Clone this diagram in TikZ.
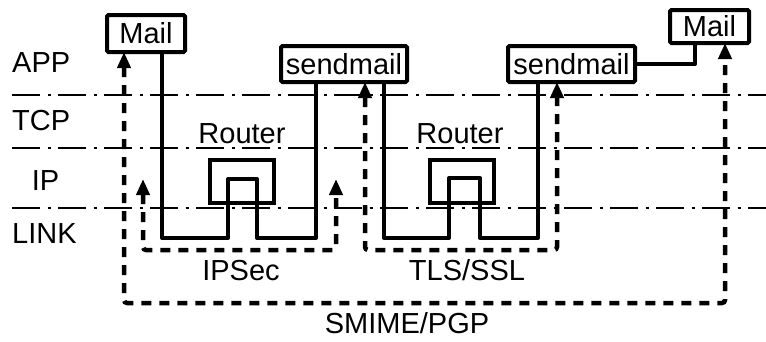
\documentclass[tikz,border=0pt]{standalone}
\usepackage{fontspec}
\setmainfont{Liberation Sans}
\usetikzlibrary{arrows.meta}
\tikzset{
  layerline/.style={line width=1.4pt, dash pattern=on 28pt off 7.5pt on 3pt off 7.5pt},
  appbox/.style={draw, line width=4pt, rounded corners=1.5pt, inner sep=0pt, fill=white},
  routerbox/.style={draw, line width=4pt, inner sep=0pt, minimum width=64pt, minimum height=43pt},
  wire/.style={line width=4pt, line join=round},
  secpath/.style={line width=4.5pt, dash pattern=on 10pt off 8pt, rounded corners=3pt,
    {Triangle[width=13pt,length=16pt]}-{Triangle[width=13pt,length=16pt]}},
  lbl/.style={inner sep=0pt, anchor=base},
}
\begin{document}
\begin{tikzpicture}[x=1pt, y=-1pt, font=\fontsize{29}{33}\selectfont]
\useasboundingbox (0,0) rectangle (766,341);

% protocol layer separators
\draw[layerline] (12,95) -- (766,95);
\draw[layerline] (12,148) -- (766,148);
\draw[layerline] (12,208) -- (766,208);

% layer names
\node[lbl, anchor=base west] (app) at (12,72) {APP};
\node[lbl, anchor=base west] (tcp) at (12,130) {TCP};
\node[lbl] (ip) at (45.5,190) {IP};
\node[lbl, anchor=base west] (link) at (12,243) {LINK};

% application boxes
\node[appbox, minimum width=78pt, minimum height=37pt] (mailL) at (146,33.5) {\raisebox{-3.5pt}{Mail}};
\node[appbox, minimum width=126pt, minimum height=36pt] (send1) at (344,64) {sendmail};
\node[appbox, minimum width=127pt, minimum height=36pt] (send2) at (571.5,64) {sendmail};
\node[appbox, minimum width=79pt, minimum height=33pt] (mailR) at (709.5,26.5) {Mail};

% routers
\node[lbl] (r1lbl) at (242,143) {Router};
\node[lbl] (r2lbl) at (460,143) {Router};
\node[routerbox] (router1) at (242,181.5) {};
\node[routerbox] (router2) at (461.5,181) {};

% physical message path
\draw[wire] ([xshift=16pt]mailL.south) -- (162,238) -- (228,238) -- (228,179)
  -- (257,179) -- (257,238) -- (316,238) -- ([xshift=-28pt]send1.south);
\draw[wire] ([xshift=40pt]send1.south) -- (384,238) -- (449,238) -- (449,178)
  -- (480,178) -- (480,238) -- (538,238) -- ([xshift=-33.5pt]send2.south);
\draw[wire] (send2.east) -| ([xshift=-14.5pt]mailR.south);

% security associations
\coordinate (ipsL) at (143,179);
\coordinate (ipsR) at (336,179);
\draw[secpath] (ipsL) -- (143,250) -- (336,250) -- (ipsR);
\draw[secpath] ([xshift=21pt,yshift=2pt]send1.south) -- (365,250) -- (557,250)
  -- ([xshift=-14.5pt,yshift=2pt]send2.south);
\draw[secpath] ([xshift=-22pt,yshift=2pt]mailL.south) -- (124,303) -- (725,303)
  -- ([xshift=15.5pt,yshift=2pt]mailR.south);

% security layer names
\node[lbl] (ipsec) at (241,280) {IPSec};
\node[lbl] (tls) at (467,280) {TLS/SSL};
\node[lbl] (smime) at (407,333) {SMIME/PGP};
\end{tikzpicture}
\end{document}
